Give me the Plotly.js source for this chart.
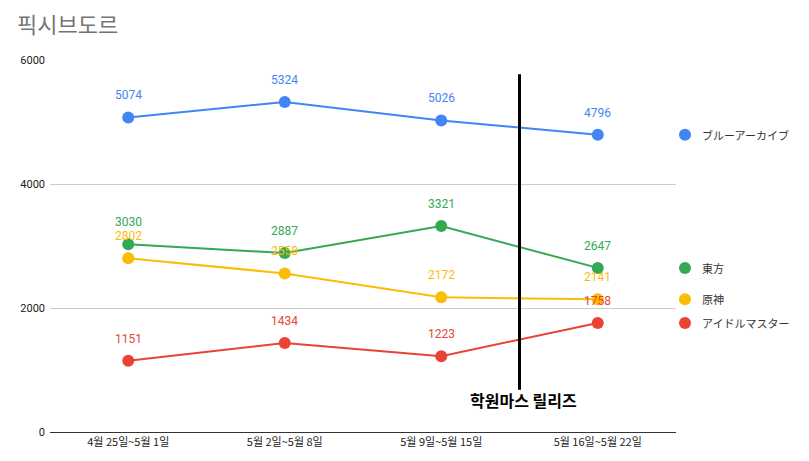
<!DOCTYPE html>
<html><head><meta charset="utf-8">
<script src="https://cdn.plot.ly/plotly-3.0.1.min.js"></script>
<style>body{margin:0;background:#fff}#c{width:809px;height:461px}</style>
</head><body><div id="c"></div>
<script>
const categories = ["4월 25일~5월 1일", "5월 2일~5월 8일", "5월 9일~5월 15일", "5월 16일~5월 22일"];
const seriesNames = ["ブルーアーカイブ", "東方", "原神", "アイドルマスター"];
const blueArchive = [5074, 5324, 5026, 4796];
const touhou = [3030, 2887, 3321, 2647];
const genshin = [2802, 2558, 2172, 2141];
const idolmaster = [1151, 1434, 1223, 1758];
const colors = ["#4285F4", "#34A853", "#FBBC04", "#EA4335"];
const yTicks = [0, 2000, 4000, 6000];
const releaseLabel = "학원마스 릴리즈";
const releaseX = 2.5, releaseY0 = 680, releaseY1 = 5770, releaseLabelY = 520;

const allSeries = [blueArchive, touhou, genshin, idolmaster];
const xIdx = categories.map((_, i) => i);
const traces = allSeries.map((vals, k) => ({
  type: "scatter", mode: "lines+markers",
  x: xIdx, y: vals,
  line: {color: colors[k], width: 2}, marker: {color: colors[k], size: 12},
  cliponaxis: false, showlegend: false, hoverinfo: "skip"
}));

const shapes = [{type: "line", xref: "x", yref: "y", x0: releaseX, x1: releaseX, y0: releaseY0, y1: releaseY1,
  line: {color: "#000", width: 3}}];
const annotations = [{xref: "x", yref: "y", x: releaseX, y: releaseLabelY, xshift: 4, text: "<b>" + releaseLabel + "</b>",
  showarrow: false, font: {family: "Noto Sans CJK KR", size: 16, color: "#000"}}];
// value labels
allSeries.forEach((vals, k) => {
  vals.forEach((v, i) => {
    annotations.push({xref: "x", yref: "y", x: xIdx[i], y: v, yshift: 22, text: String(v), showarrow: false,
      font: {family: "Roboto, Arial", size: 12, color: colors[k]}});
  });
});
// legend entries aligned with last points
allSeries.forEach((vals, k) => {
  const yv = vals[vals.length - 1];
  shapes.push({type: "circle", xref: "paper", yref: "y", xsizemode: "pixel", ysizemode: "pixel",
    xanchor: 1.0, yanchor: yv, x0: 3, x1: 15, y0: -6, y1: 6,
    fillcolor: colors[k], line: {width: 0}});
  annotations.push({xref: "paper", yref: "y", x: 1.0, y: yv, xshift: 24, xanchor: "left", yanchor: "middle",
    text: seriesNames[k], showarrow: false, font: {family: "Noto Sans CJK JP", size: 11, color: "#333"}});
});

const layout = {
  width: 809, height: 461, paper_bgcolor: "#fff", plot_bgcolor: "#fff",
  margin: {l: 50, r: 133, t: 60, b: 29},
  title: {text: "픽시브도르", x: 0.021, xanchor: "left", y: 0.945, yanchor: "middle",
    font: {family: "Noto Sans CJK KR", size: 22, color: "#757575"}},
  xaxis: {type: "linear", range: [-0.5, 3.5], tickvals: xIdx, ticktext: categories, showgrid: false,
    zeroline: false, showline: true, linecolor: "#333", linewidth: 1, ticks: "",
    tickfont: {family: "Noto Sans CJK KR", size: 11, color: "#222"}},
  yaxis: {range: [0, 6000], tickvals: yTicks, ticktext: yTicks.map(String), showgrid: true, gridcolor: "#ccc",
    zeroline: false, showline: false, ticks: "", ticklabelstandoff: 4,
    tickfont: {family: "Roboto, Arial", size: 11, color: "#222"}},
  shapes: shapes, annotations: annotations, showlegend: false
};
Plotly.newPlot("c", traces, layout, {displayModeBar: false, staticPlot: true});
</script></body></html>
